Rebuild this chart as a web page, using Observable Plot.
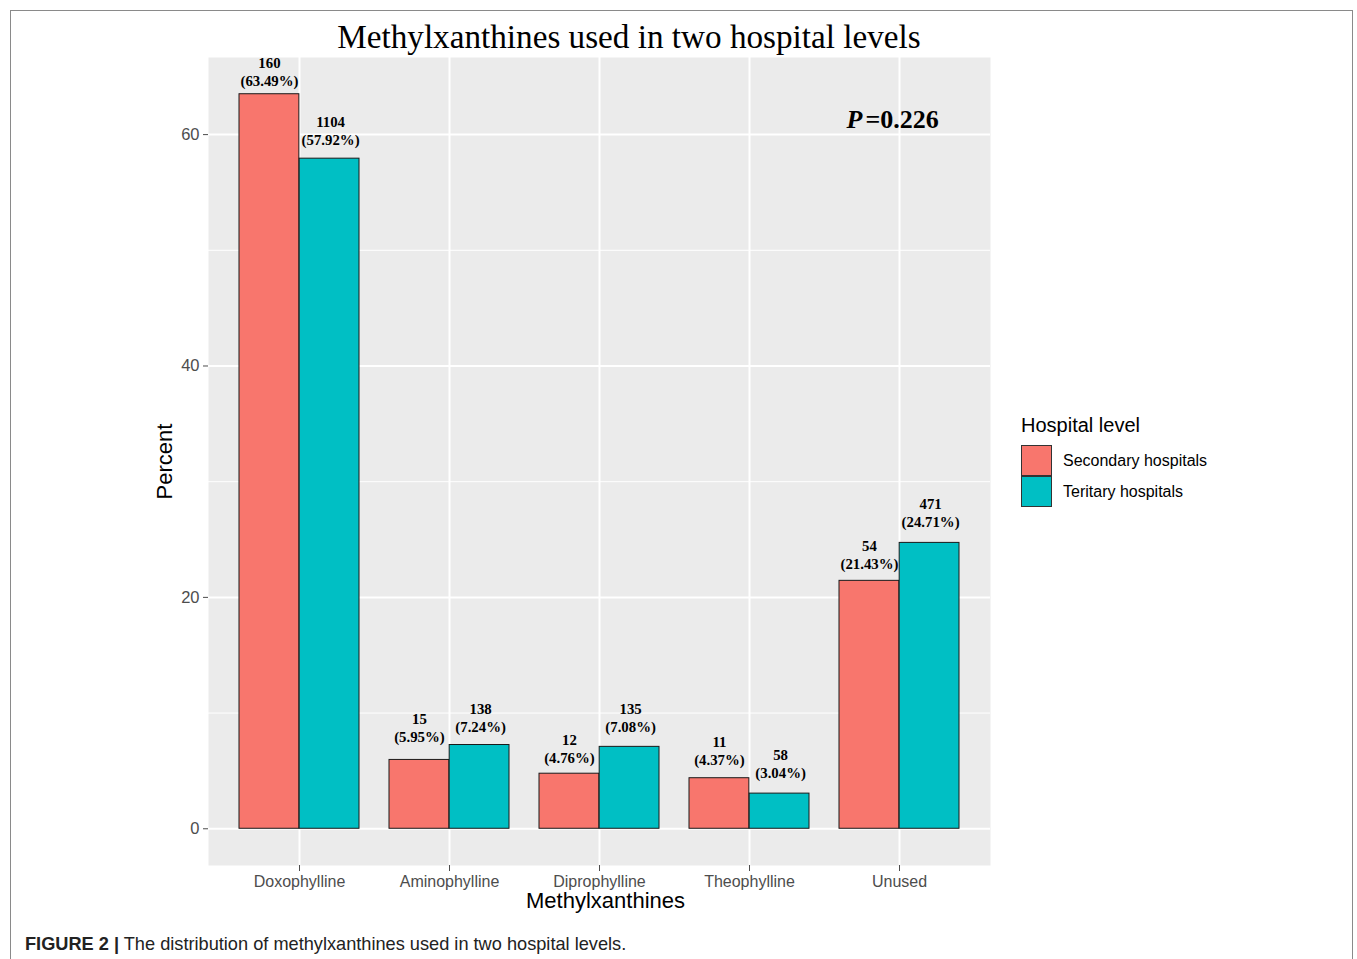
<!DOCTYPE html>
<html>
<head>
<meta charset="utf-8">
<script src="https://cdn.jsdelivr.net/npm/d3@7"></script>
<script src="https://cdn.jsdelivr.net/npm/@observablehq/plot@0.6"></script>
<style>
  html, body { margin: 0; padding: 0; background: #fff; }
  #page { position: relative; width: 1357px; height: 959px; overflow: hidden; font-family: "Liberation Sans", Arial, sans-serif; }
  #border { position: absolute; left: 10px; top: 10px; width: 1343px; height: 980px; border: 1px solid #8a8a8a; box-sizing: border-box; }
  #chart { position: absolute; left: 0; top: 0; }
  #title { position: absolute; left: 0; width: 1258px; top: 18px; text-align: center; font-family: "Liberation Serif", "Times New Roman", serif; font-size: 33.2px; color: #000; }
  #legend { position: absolute; left: 1021px; top: 414px; color: #000; }
  #legend .lt { font-size: 20px; margin-bottom: 8px; }
  #legend .row { display: flex; align-items: center; height: 31px; }
  #legend .sw { width: 31px; height: 31px; border: 1px solid #333; box-sizing: border-box; margin-right: 11px; }
  #legend .lab { font-size: 16px; }
  #caption { position: absolute; left: 25px; top: 934px; font-size: 18.2px; color: #222; }
  g[aria-label="y-axis label"] text, g[aria-label="x-axis label"] text { font-size: 22px; fill: #000; }
</style>
</head>
<body>
<div id="page">
  <div id="border"></div>
  <div id="chart"></div>
  <div id="title">Methylxanthines used in two hospital levels</div>
  <div id="legend"></div>
  <div id="caption"><b>FIGURE 2 |</b> The distribution of methylxanthines used in two hospital levels.</div>
</div>
<script>
const categories = ["Doxophylline", "Aminophylline", "Diprophylline", "Theophylline", "Unused"];
const levels = ["Secondary hospitals", "Teritary hospitals"];
const colors = ["#F8766D", "#00BFC4"];
const secondaryPct = [63.49, 5.95, 4.76, 4.37, 21.43];
const secondaryN = [160, 15, 12, 11, 54];
const secondaryLabelY = [64.6, 7.95, 6.15, 5.95, 22.9];
const tertiaryPct = [57.92, 7.24, 7.08, 3.04, 24.71];
const tertiaryN = [1104, 138, 135, 58, 471];
const tertiaryLabelY = [59.5, 8.8, 8.8, 4.85, 26.5];
const yTicks = [0, 20, 40, 60];
const yMinor = [10, 30, 50];
const pAnnotation = [{x: "Unused", y: 61.3, p: "P", rest: "=0.226"}];

const secondary = categories.map((c, i) => ({category: c, level: levels[0], value: secondaryPct[i], n: secondaryN[i], ly: secondaryLabelY[i]}));
const tertiary = categories.map((c, i) => ({category: c, level: levels[1], value: tertiaryPct[i], n: tertiaryN[i], ly: tertiaryLabelY[i]}));

const W = 1357, H = 920;
const mL = 208, mR = 367, mT = 57, mB = 55;
const step = (W - mL - mR) / 5.2;
const bw = step * 0.8;
const half = bw / 2;

const ymax = Math.max(...secondaryPct, ...tertiaryPct);
const yDomain = [-0.05 * ymax, ymax * 1.05];

const label = d => `${d.n}\n(${d.value.toFixed(2)}%)`;
const textOpts = {x: "category", y: "ly", text: label, lineAnchor: "bottom", dy: 5,
  fontFamily: "Liberation Serif, Times New Roman, serif", fontWeight: "bold", fontSize: 14.8, lineHeight: 1.22, fill: "#000"};

const plot = Plot.plot({
  width: W, height: H,
  marginLeft: mL, marginRight: mR, marginTop: mT, marginBottom: mB,
  style: {fontFamily: "Liberation Sans, Arial, sans-serif", background: "transparent"},
  x: {type: "band", domain: categories, paddingInner: 0.2, paddingOuter: 0.2},
  y: {domain: yDomain},
  color: {domain: levels, range: colors},
  marks: [
    Plot.frame({fill: "#EBEBEB", stroke: null}),
    Plot.ruleY(yMinor, {stroke: "#fff", strokeWidth: 1}),
    Plot.ruleY(yTicks, {stroke: "#fff", strokeWidth: 2}),
    Plot.ruleX(categories, {x: d => d, stroke: "#fff", strokeWidth: 2}),
    Plot.barY(secondary, {x: "category", y: "value", fill: "level", stroke: "#1a1a1a", strokeWidth: 1, insetRight: half}),
    Plot.barY(tertiary, {x: "category", y: "value", fill: "level", stroke: "#1a1a1a", strokeWidth: 1, insetLeft: half}),
    Plot.text(secondary, {...textOpts, dx: -half / 2}),
    Plot.text(tertiary, {...textOpts, dx: half / 2 + 1}),
    Plot.text(pAnnotation, {x: "x", y: "y", text: "p", textAnchor: "end", dx: -37, fontFamily: "Liberation Serif, Times New Roman, serif", fontStyle: "italic", fontWeight: "bold", fontSize: 26, fill: "#000"}),
    Plot.text(pAnnotation, {x: "x", y: "y", text: "rest", textAnchor: "start", dx: -34, fontFamily: "Liberation Serif, Times New Roman, serif", fontWeight: "bold", fontSize: 26, fill: "#000"}),
    Plot.axisY({ticks: yTicks, tickSize: 5, tickPadding: 4, fontSize: 16.5, color: "#4D4D4D", label: "Percent", labelAnchor: "center", labelArrow: "none", labelOffset: 52}),
    Plot.axisX({tickSize: 6, tickPadding: 4, fontSize: 16, color: "#4D4D4D", label: "Methylxanthines", labelAnchor: "center", labelArrow: "none", labelOffset: 42})
  ]
});
document.getElementById("chart").appendChild(plot);
const xl = plot.querySelector('g[aria-label="x-axis label"] text');
if (xl) xl.setAttribute("dx", "6");

const lg = document.getElementById("legend");
const lt = document.createElement("div"); lt.className = "lt"; lt.textContent = "Hospital level"; lg.appendChild(lt);
levels.forEach((l, i) => {
  const r = document.createElement("div"); r.className = "row";
  const s = document.createElement("div"); s.className = "sw"; s.style.background = colors[i];
  const t = document.createElement("div"); t.className = "lab"; t.textContent = l;
  r.appendChild(s); r.appendChild(t); lg.appendChild(r);
});
</script>
</body>
</html>
